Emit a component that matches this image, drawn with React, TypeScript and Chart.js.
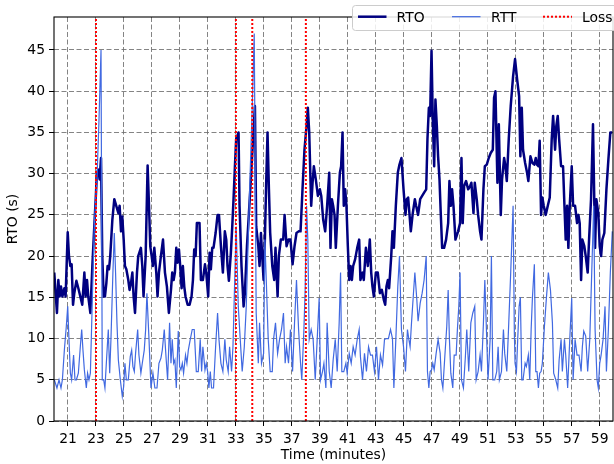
import React, { useEffect, useRef } from "react";
import { Chart, registerables } from "chart.js";

Chart.register(...registerables);

const xTicks = [21, 23, 25, 27, 29, 31, 33, 35, 37, 39, 41, 43, 45, 47, 49, 51, 53, 55, 57, 59];
const yTicks = [0, 5, 10, 15, 20, 25, 30, 35, 40, 45];
const lossTimes = [23.0, 33.0, 34.17, 38.0];
const legendLabels = ["RTO", "RTT", "Loss"];

const rtoTime = [
  20.02, 20.21, 20.31, 20.4, 20.5, 20.6, 20.74, 20.83, 20.98, 21.07,
  21.17, 21.26, 21.36, 21.45, 21.6, 21.74, 21.88, 22.02, 22.17, 22.26,
  22.36, 22.45, 22.6, 22.74, 22.88, 22.98, 23.07, 23.17, 23.26, 23.36,
  23.45, 23.55, 23.64, 23.74, 23.83, 23.93, 24.02, 24.17, 24.31, 24.45,
  24.6, 24.69, 24.79, 24.88, 24.98, 25.07, 25.17, 25.31, 25.4, 25.5,
  25.6, 25.69, 25.79, 25.93, 26.02, 26.21, 26.31, 26.4, 26.55, 26.69,
  26.79, 26.88, 26.98, 27.07, 27.17, 27.31, 27.4, 27.5, 27.64, 27.79,
  27.93, 28.07, 28.21, 28.36, 28.45, 28.55, 28.64, 28.74, 28.83, 28.93,
  29.02, 29.12, 29.21, 29.31, 29.4, 29.55, 29.69, 29.83, 29.93, 30.02,
  30.12, 30.21, 30.31, 30.4, 30.5, 30.64, 30.79, 30.88, 31.02, 31.12,
  31.21, 31.31, 31.4, 31.55, 31.69, 31.79, 31.93, 32.07, 32.21, 32.31,
  32.4, 32.5, 32.64, 32.74, 32.83, 32.93, 33.02, 33.19, 33.26, 33.4,
  33.55, 33.64, 33.79, 33.93, 34.07, 34.21, 34.36, 34.45, 34.6, 34.69,
  34.79, 34.88, 34.98, 35.07, 35.17, 35.26, 35.36, 35.45, 35.6, 35.74,
  35.83, 35.98, 36.07, 36.21, 36.38, 36.48, 36.62, 36.76, 36.9, 37.05,
  37.19, 37.33, 37.48, 37.62, 37.76, 37.9, 38.05, 38.14, 38.24, 38.38,
  38.48, 38.57, 38.71, 38.86, 39.0, 39.1, 39.24, 39.38, 39.52, 39.67,
  39.76, 39.86, 39.95, 40.05, 40.14, 40.29, 40.43, 40.52, 40.62, 40.71,
  40.81, 40.9, 41.0, 41.1, 41.19, 41.29, 41.38, 41.52, 41.67, 41.81,
  41.9, 42.05, 42.14, 42.29, 42.43, 42.57, 42.67, 42.76, 42.86, 43.0,
  43.14, 43.29, 43.43, 43.57, 43.67, 43.76, 43.86, 43.95, 44.1, 44.19,
  44.29, 44.43, 44.57, 44.69, 44.83, 44.98, 45.12, 45.21, 45.31, 45.4,
  45.5, 45.64, 45.79, 45.88, 46.02, 46.17, 46.31, 46.45, 46.6, 46.69,
  46.79, 46.88, 46.98, 47.07, 47.17, 47.26, 47.36, 47.45, 47.55, 47.64,
  47.74, 47.88, 48.02, 48.17, 48.26, 48.36, 48.45, 48.55, 48.69, 48.88,
  49.02, 49.12, 49.21, 49.31, 49.45, 49.6, 49.74, 49.83, 49.98, 50.07,
  50.21, 50.31, 50.45, 50.55, 50.69, 50.79, 50.93, 51.07, 51.21, 51.36,
  51.45, 51.55, 51.69, 51.79, 51.93, 52.02, 52.17, 52.26, 52.36, 52.5,
  52.64, 52.81, 52.95, 53.1, 53.24, 53.33, 53.43, 53.52, 53.67, 53.81,
  53.9, 54.05, 54.19, 54.33, 54.43, 54.52, 54.62, 54.71, 54.81, 54.9,
  55.0, 55.14, 55.29, 55.43, 55.57, 55.67, 55.81, 55.9, 56.0, 56.1,
  56.24, 56.38, 56.48, 56.57, 56.67, 56.76, 56.86, 57.0, 57.1, 57.24,
  57.38, 57.48, 57.57, 57.67, 57.76, 57.9, 58.0, 58.14, 58.24, 58.38,
  58.52, 58.67, 58.76, 58.9, 59.0, 59.1, 59.19, 59.33, 59.48, 59.62,
  59.76, 59.9,
];
const rtoValue = [
  18.0, 13.1, 17.1, 15.1, 16.3, 15.1, 16.1, 15.1, 22.9, 20.0,
  18.8, 19.0, 14.1, 15.5, 17.0, 16.1, 15.1, 14.1, 18.0, 15.1,
  17.1, 15.1, 13.1, 18.8, 23.6, 26.9, 30.1, 30.5, 29.3, 31.9,
  20.0, 15.1, 15.1, 16.7, 18.8, 18.4, 20.0, 24.4, 26.9, 26.1,
  25.2, 26.1, 23.0, 24.8, 22.0, 18.8, 18.4, 17.1, 15.9, 16.7,
  18.0, 15.1, 13.1, 18.0, 20.0, 21.0, 18.8, 15.1, 20.0, 31.0,
  26.1, 21.2, 20.0, 18.8, 21.0, 18.0, 15.1, 18.0, 20.0, 22.0,
  18.0, 16.3, 13.1, 15.9, 18.0, 17.1, 18.0, 21.0, 19.2, 20.8,
  18.8, 16.1, 18.8, 16.3, 15.1, 14.1, 14.1, 15.1, 17.1, 20.8,
  20.0, 24.0, 24.0, 24.0, 17.1, 17.1, 19.0, 18.0, 15.1, 20.4,
  18.4, 21.0, 21.0, 22.8, 25.0, 25.0, 21.2, 18.0, 23.0, 22.0,
  18.8, 17.0, 20.4, 23.6, 26.9, 30.9, 34.2, 35.0, 26.1, 18.8,
  13.9, 15.5, 21.2, 25.2, 29.3, 33.7, 38.2, 23.6, 21.2, 18.8,
  22.8, 20.0, 17.1, 22.0, 29.3, 35.0, 28.1, 22.8, 18.8, 17.1,
  21.0, 15.1, 20.0, 22.0, 22.0, 25.0, 21.2, 22.0, 22.0, 19.0,
  21.2, 22.8, 23.0, 23.0, 28.1, 32.9, 35.8, 38.0, 35.0, 26.1,
  28.9, 30.9, 29.3, 27.3, 28.1, 27.3, 24.4, 23.0, 26.1, 30.1,
  21.0, 26.9, 26.1, 25.0, 21.0, 26.1, 30.1, 30.9, 35.0, 26.1,
  28.1, 26.1, 21.2, 17.1, 18.8, 17.1, 18.8, 19.6, 21.0, 22.0,
  17.1, 18.0, 17.1, 21.0, 18.8, 22.0, 18.0, 16.3, 15.1, 18.0,
  18.0, 15.5, 15.9, 14.7, 14.1, 16.3, 17.1, 16.1, 20.0, 23.0,
  21.0, 26.1, 30.1, 31.1, 31.9, 28.1, 25.0, 26.9, 27.1, 25.2,
  23.0, 25.2, 26.9, 26.1, 25.0, 26.9, 27.3, 27.7, 28.1, 34.2,
  38.0, 37.0, 44.9, 36.6, 30.9, 39.0, 35.8, 32.1, 29.3, 25.2,
  21.0, 21.0, 22.0, 24.0, 29.1, 26.1, 28.1, 26.1, 22.0, 23.0,
  24.0, 31.9, 24.0, 28.5, 29.1, 28.1, 28.5, 28.9, 25.2, 28.9,
  26.9, 25.0, 23.0, 22.0, 28.1, 30.9, 31.1, 31.9, 32.5, 32.9,
  39.2, 40.0, 28.9, 36.0, 25.0, 29.3, 31.9, 30.9, 29.1, 34.2,
  38.2, 41.8, 43.9, 41.4, 39.4, 32.1, 38.0, 32.9, 31.3, 30.1,
  29.1, 32.1, 31.3, 31.1, 31.9, 31.1, 30.9, 34.0, 25.0, 27.1,
  26.1, 25.0, 26.1, 27.1, 34.2, 37.0, 32.9, 35.8, 37.0, 34.2,
  30.9, 30.9, 26.1, 22.0, 26.1, 21.0, 26.1, 30.9, 26.1, 26.1,
  24.0, 25.0, 24.0, 17.1, 22.0, 21.2, 20.0, 18.0, 22.0, 26.9,
  36.0, 21.0, 26.9, 25.2, 21.2, 20.0, 22.0, 22.8, 28.1, 31.7,
  35.0, 35.0,
];

const rttTime = [
  20.02, 20.21, 20.36, 20.5, 20.6, 20.74, 20.88, 20.98, 21.07, 21.17,
  21.26, 21.4, 21.5, 21.6, 21.74, 21.88, 21.98, 22.07, 22.17, 22.31,
  22.4, 22.5, 22.6, 22.74, 22.88, 22.98, 23.07, 23.21, 23.36, 23.45,
  23.55, 23.64, 23.74, 23.88, 23.98, 24.07, 24.21, 24.31, 24.4, 24.5,
  24.6, 24.74, 24.88, 24.98, 25.07, 25.17, 25.31, 25.45, 25.55, 25.64,
  25.74, 25.83, 25.98, 26.07, 26.21, 26.31, 26.45, 26.55, 26.64, 26.79,
  26.93, 27.07, 27.21, 27.36, 27.5, 27.64, 27.74, 27.88, 28.02, 28.12,
  28.26, 28.36, 28.45, 28.55, 28.64, 28.74, 28.88, 28.98, 29.07, 29.17,
  29.26, 29.4, 29.5, 29.6, 29.74, 29.88, 30.02, 30.17, 30.31, 30.45,
  30.55, 30.64, 30.79, 30.88, 30.98, 31.07, 31.17, 31.26, 31.4, 31.55,
  31.69, 31.79, 31.93, 32.07, 32.21, 32.31, 32.45, 32.55, 32.69, 32.79,
  32.93, 33.02, 33.17, 33.31, 33.45, 33.6, 33.74, 33.88, 34.02, 34.17,
  34.31, 34.45, 34.6, 34.69, 34.83, 34.98, 35.07, 35.17, 35.31, 35.45,
  35.6, 35.69, 35.83, 35.98, 36.12, 36.26, 36.4, 36.52, 36.62, 36.76,
  36.9, 37.05, 37.19, 37.33, 37.48, 37.62, 37.71, 37.86, 37.95, 38.05,
  38.14, 38.24, 38.38, 38.52, 38.67, 38.81, 38.95, 39.05, 39.19, 39.29,
  39.43, 39.52, 39.67, 39.81, 39.95, 40.1, 40.24, 40.38, 40.48, 40.57,
  40.71, 40.86, 40.95, 41.1, 41.24, 41.38, 41.52, 41.67, 41.81, 41.9,
  42.05, 42.19, 42.33, 42.48, 42.62, 42.76, 42.9, 43.05, 43.19, 43.33,
  43.48, 43.62, 43.76, 43.9, 44.05, 44.19, 44.29, 44.43, 44.57, 44.69,
  44.83, 44.98, 45.12, 45.26, 45.36, 45.45, 45.55, 45.69, 45.79, 45.93,
  46.02, 46.17, 46.31, 46.45, 46.6, 46.69, 46.79, 46.88, 46.98, 47.07,
  47.17, 47.31, 47.45, 47.6, 47.69, 47.79, 47.93, 48.07, 48.17, 48.26,
  48.36, 48.5, 48.6, 48.74, 48.83, 48.93, 49.02, 49.12, 49.26, 49.4,
  49.5, 49.64, 49.79, 49.93, 50.07, 50.17, 50.31, 50.45, 50.55, 50.69,
  50.79, 50.88, 51.02, 51.17, 51.26, 51.36, 51.5, 51.64, 51.74, 51.83,
  51.98, 52.12, 52.21, 52.36, 52.5, 52.64, 52.74, 52.81, 52.9, 52.95,
  53.05, 53.14, 53.24, 53.33, 53.43, 53.52, 53.67, 53.76, 53.9, 54.0,
  54.1, 54.19, 54.33, 54.43, 54.52, 54.62, 54.71, 54.81, 54.9, 55.05,
  55.19, 55.33, 55.48, 55.62, 55.71, 55.86, 56.0, 56.1, 56.24, 56.33,
  56.48, 56.57, 56.71, 56.86, 57.0, 57.1, 57.24, 57.38, 57.52, 57.67,
  57.76, 57.86, 58.0, 58.14, 58.29, 58.43, 58.57, 58.67, 58.81, 58.9,
  59.0, 59.1, 59.24, 59.38, 59.48, 59.62, 59.76, 59.9,
];
const rttValue = [
  5.0, 4.0, 5.0, 4.0, 5.0, 8.6, 11.5, 13.9, 9.9, 5.8,
  5.0, 8.0, 5.0, 5.0, 5.8, 9.0, 11.1, 8.6, 6.2, 4.0,
  5.8, 5.0, 5.8, 14.7, 23.6, 26.9, 29.3, 36.2, 45.0, 5.0,
  5.0, 4.0, 7.0, 11.1, 5.8, 9.9, 18.0, 22.8, 18.0, 11.9,
  7.4, 5.0, 3.0, 4.2, 7.0, 5.0, 5.0, 7.8, 8.6, 6.6,
  6.0, 8.2, 11.1, 8.0, 5.8, 7.0, 8.6, 11.1, 15.5, 9.9,
  4.0, 5.8, 4.0, 4.0, 7.0, 7.6, 8.6, 11.1, 7.4, 5.0,
  11.9, 7.0, 9.9, 7.0, 7.4, 4.0, 10.9, 6.6, 6.2, 7.0,
  5.8, 8.0, 7.0, 8.6, 9.9, 11.1, 11.1, 6.0, 6.0, 9.9,
  6.0, 9.0, 6.2, 7.0, 6.0, 4.0, 6.0, 4.0, 4.0, 9.0,
  13.1, 9.9, 7.0, 6.0, 9.9, 7.4, 6.0, 9.0, 6.0, 9.0,
  18.0, 23.6, 13.9, 9.9, 6.0, 9.0, 13.9, 22.0, 30.1, 38.2,
  47.0, 13.1, 7.0, 11.9, 7.0, 8.2, 22.0, 17.1, 9.9, 6.0,
  6.0, 9.9, 11.9, 8.2, 9.9, 11.1, 13.1, 7.0, 9.0, 7.0,
  11.1, 6.0, 11.9, 17.1, 11.1, 7.0, 5.0, 11.1, 15.9, 26.1,
  22.0, 9.9, 11.1, 9.9, 5.0, 9.9, 14.9, 5.0, 6.0, 7.0,
  4.0, 11.9, 6.0, 4.0, 7.4, 9.9, 6.0, 11.9, 18.0, 6.0,
  6.0, 7.0, 5.8, 8.2, 7.0, 9.0, 8.0, 9.9, 11.1, 7.8,
  5.0, 8.2, 6.0, 9.0, 8.0, 8.0, 6.0, 9.0, 5.0, 8.0,
  6.8, 9.9, 10.0, 10.0, 11.1, 10.0, 4.0, 9.9, 16.3, 20.0,
  11.1, 9.0, 6.0, 11.1, 9.9, 9.0, 11.9, 15.5, 18.0, 14.7,
  12.1, 14.3, 15.5, 17.1, 20.0, 6.0, 4.0, 6.0, 6.2, 7.0,
  6.2, 8.2, 9.9, 8.2, 5.0, 4.0, 7.8, 11.5, 15.9, 9.9,
  5.8, 4.0, 8.0, 8.0, 11.1, 13.9, 18.0, 5.0, 4.0, 7.8,
  11.1, 6.0, 11.9, 13.1, 13.9, 5.0, 6.0, 8.0, 6.0, 11.9,
  17.1, 12.3, 5.0, 9.9, 20.0, 5.0, 5.0, 6.0, 9.0, 5.0,
  6.0, 11.1, 8.2, 6.0, 11.9, 18.0, 22.8, 26.1, 10.7, 7.0,
  6.0, 9.9, 13.9, 15.0, 5.0, 5.0, 7.0, 6.6, 8.0, 5.0,
  11.1, 14.9, 19.0, 6.0, 6.0, 4.0, 5.8, 6.0, 7.0, 11.5,
  14.9, 18.0, 15.9, 11.9, 5.8, 5.0, 4.0, 7.4, 9.9, 6.0,
  9.9, 8.0, 4.0, 9.9, 14.9, 5.0, 9.9, 8.0, 8.0, 6.0,
  9.0, 10.9, 10.3, 6.0, 9.9, 18.0, 26.1, 11.1, 5.0, 4.0,
  7.0, 8.0, 9.9, 13.9, 6.0, 11.1, 18.0, 23.0,
];

const FONT = "'DejaVu Sans', 'Liberation Sans', sans-serif";
const FS = 13.9;
const RTO_COLOR = "#000080";
const RTT_COLOR = "#4169e1";
const LOSS_COLOR = "#ff0000";

export default function App() {
  const ref = useRef<HTMLCanvasElement | null>(null);

  useEffect(() => {
    document.body.style.margin = "0";
    const canvas = ref.current;
    if (!canvas) return;

    const toPoints = (ts: number[], vs: number[]) => ts.map((t, i) => ({ x: t, y: vs[i] }));

    const lossSets = lossTimes.map((t) => ({
      label: "Loss",
      data: [
        { x: t, y: 0 },
        { x: t, y: 49 },
      ],
      borderColor: LOSS_COLOR,
      borderWidth: 2,
      borderDash: [2, 2],
      borderCapStyle: "butt",
      pointRadius: 0,
      tension: 0,
      fill: false,
    }));

    const framePlugin = {
      id: "frame",
      afterDatasetsDraw(chart: any) {
        const { ctx, chartArea } = chart;
        ctx.save();
        ctx.strokeStyle = "#000";
        ctx.lineWidth = 1.1;
        ctx.strokeRect(chartArea.left, chartArea.top, chartArea.right - chartArea.left, chartArea.bottom - chartArea.top);
        ctx.restore();
      },
    };

    const legendPlugin = {
      id: "mplLegend",
      afterDraw(chart: any) {
        const ctx = chart.ctx as CanvasRenderingContext2D;
        ctx.save();
        const bx = 352.5, by = 5.5, bw = 280, bh = 25, r = 3;
        ctx.beginPath();
        ctx.moveTo(bx + r, by);
        ctx.lineTo(bx + bw - r, by);
        ctx.arcTo(bx + bw, by, bx + bw, by + r, r);
        ctx.lineTo(bx + bw, by + bh - r);
        ctx.arcTo(bx + bw, by + bh, bx + bw - r, by + bh, r);
        ctx.lineTo(bx + r, by + bh);
        ctx.arcTo(bx, by + bh, bx, by + bh - r, r);
        ctx.lineTo(bx, by + r);
        ctx.arcTo(bx, by, bx + r, by, r);
        ctx.closePath();
        ctx.fillStyle = "rgba(255,255,255,0.85)";
        ctx.fill();
        ctx.strokeStyle = "#cccccc";
        ctx.lineWidth = 1;
        ctx.stroke();

        const ly = 16.7;
        const items = [
          { x0: 358, x1: 386.5, tx: 396.5, color: RTO_COLOR, w: 2.5, dash: [] as number[] },
          { x0: 452, x1: 480.5, tx: 491, color: RTT_COLOR, w: 1.2, dash: [] as number[] },
          { x0: 543, x1: 572, tx: 582, color: LOSS_COLOR, w: 2, dash: [2, 2] },
        ];
        items.forEach((it, i) => {
          ctx.beginPath();
          ctx.setLineDash(it.dash);
          ctx.strokeStyle = it.color;
          ctx.lineWidth = it.w;
          ctx.lineCap = "butt";
          ctx.moveTo(it.x0, ly);
          ctx.lineTo(it.x1, ly);
          ctx.stroke();
          ctx.setLineDash([]);
          ctx.fillStyle = "#000";
          ctx.font = `${FS}px ${FONT}`;
          ctx.textBaseline = "alphabetic";
          ctx.textAlign = "left";
          ctx.fillText(legendLabels[i], it.tx, 21.7);
        });
        ctx.restore();
      },
    };

    const chart = new Chart(canvas, {
      type: "line",
      data: {
        datasets: [
          ...lossSets,
          {
            label: "RTT",
            data: toPoints(rttTime, rttValue),
            borderColor: RTT_COLOR,
            borderWidth: 1.2,
            pointRadius: 0,
            tension: 0,
            fill: false,
          },
          {
            label: "RTO",
            data: toPoints(rtoTime, rtoValue),
            borderColor: RTO_COLOR,
            borderWidth: 2.5,
            pointRadius: 0,
            tension: 0,
            fill: false,
            borderJoinStyle: "round",
          },
        ] as any,
      },
      options: {
        responsive: false,
        animation: false,
        devicePixelRatio: 1,
        layout: { padding: { top: 17, right: 1, left: 0, bottom: 0 } },
        plugins: {
          legend: { display: false },
          tooltip: { enabled: false },
        },
        scales: {
          x: {
            type: "linear",
            min: 20.0,
            max: 59.95,
            afterBuildTicks: (scale: any) => {
              scale.ticks = xTicks.map((v) => ({ value: v }));
            },
            afterFit: (scale: any) => {
              scale.height = 43;
            },
            grid: {
              color: "rgba(110,110,110,0.85)",
              lineWidth: 1,
              tickColor: "#000",
              tickLength: 5,
              tickWidth: 1,
            },
            border: { display: false, dash: [5, 2.5] },
            ticks: {
              color: "#000",
              font: { family: FONT, size: FS },
              padding: 5,
              maxRotation: 0,
              autoSkip: false,
              callback: (v: any) => String(v),
            },
            title: {
              display: true,
              text: "Time (minutes)",
              color: "#000",
              font: { family: FONT, size: FS },
              padding: { top: 0, bottom: 0 },
            },
          },
          y: {
            type: "linear",
            min: 0,
            max: 49,
            afterBuildTicks: (scale: any) => {
              scale.ticks = yTicks.map((v) => ({ value: v }));
            },
            afterFit: (scale: any) => {
              scale.width = 54;
            },
            grid: {
              color: "rgba(110,110,110,0.85)",
              lineWidth: 1,
              tickColor: "#000",
              tickLength: 5,
              tickWidth: 1,
            },
            border: { display: false, dash: [5, 2.5] },
            ticks: {
              color: "#000",
              font: { family: FONT, size: FS },
              padding: 4,
              callback: (v: any) => String(v),
            },
            title: {
              display: true,
              text: "RTO (s)",
              color: "#000",
              font: { family: FONT, size: FS },
              padding: { top: 5, bottom: 0 },
            },
          },
        },
      } as any,
      plugins: [framePlugin, legendPlugin],
    });

    return () => chart.destroy();
  }, []);

  return (
    <div style={{ width: 614, height: 464, overflow: "hidden" }}>
      <canvas ref={ref} width={614} height={464} style={{ display: "block" }} />
    </div>
  );
}
